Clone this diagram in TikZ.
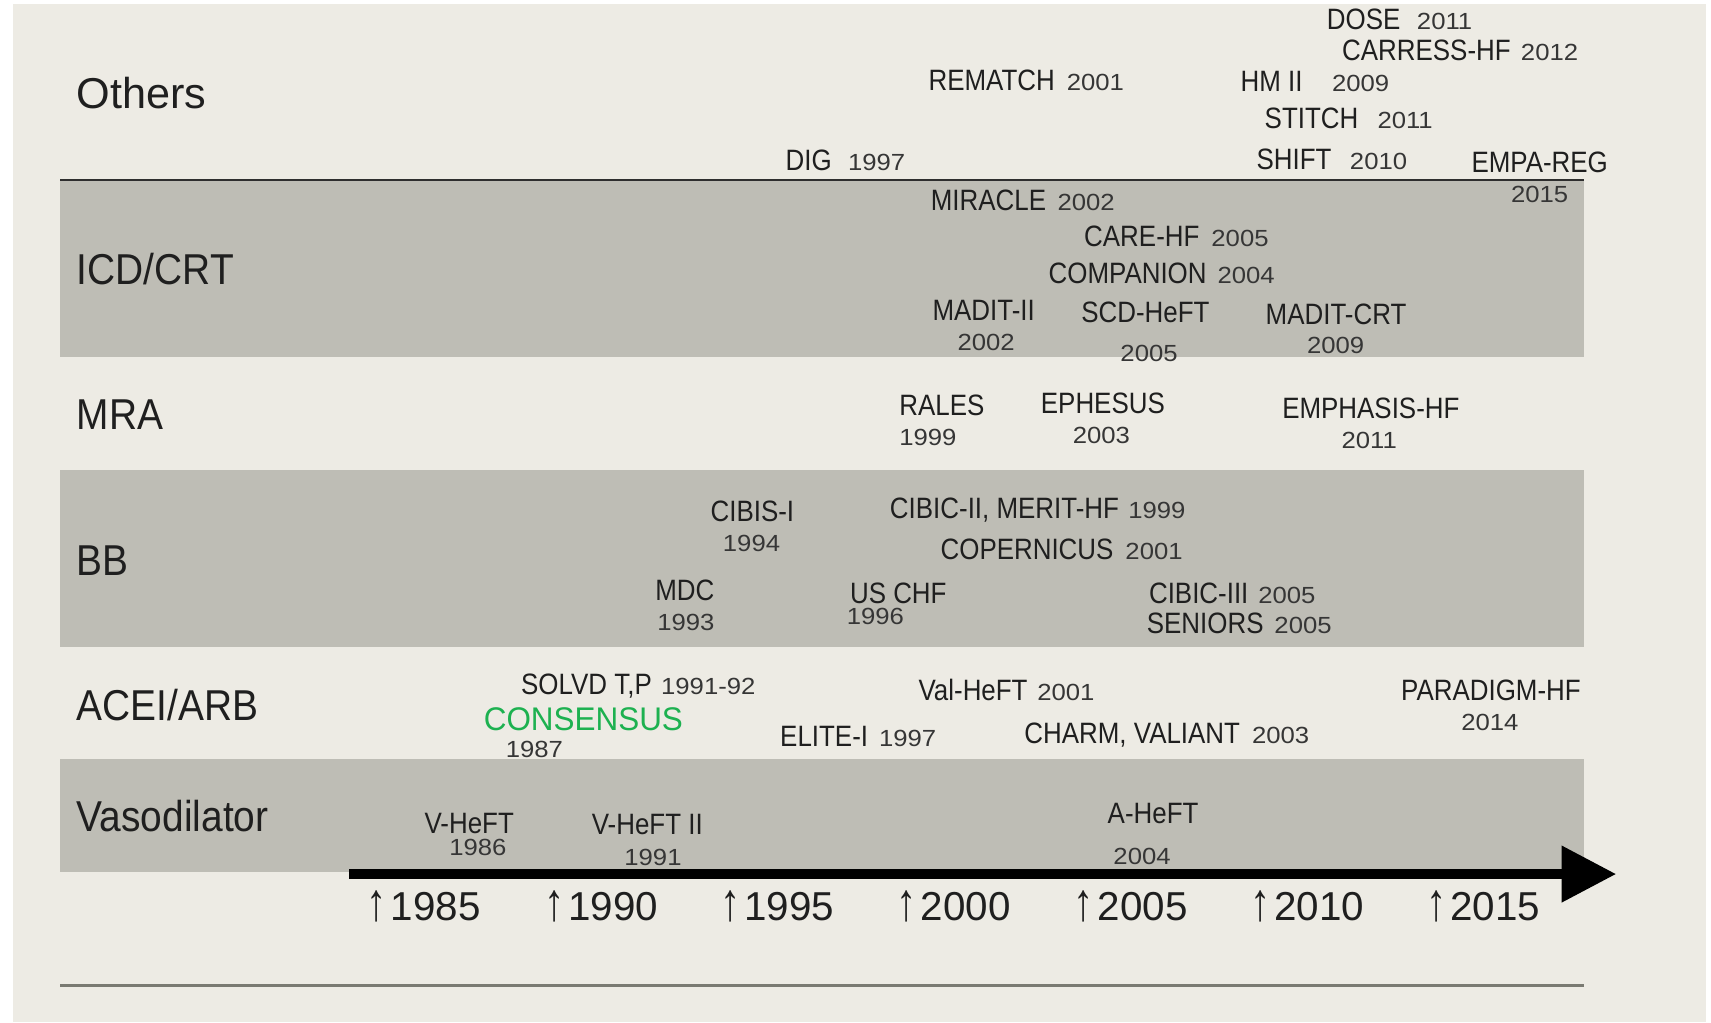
\documentclass[tikz,border=0pt]{standalone}
\usepackage{graphicx}
\usepackage{fontspec}
\setmainfont{Liberation Sans}
\newfontfamily\trialfam[FakeStretch=0.88]{Liberation Sans}
\newfontfamily\yearfam[FakeStretch=1.1]{Liberation Sans}
\newfontfamily\consfam[FakeStretch=0.96]{Liberation Sans}
\newfontfamily\catfam[FakeStretch=0.9]{Liberation Sans}
\newfontfamily\plainfam{Liberation Sans}
\usetikzlibrary{arrows.meta}
\definecolor{beige}{HTML}{EDEBE4}
\definecolor{bandcol}{HTML}{BEBDB5}
\definecolor{namecol}{HTML}{1F1F1F}
\definecolor{yearcol}{HTML}{363636}
\definecolor{catcol}{HTML}{1F1F1F}
\definecolor{consgreen}{HTML}{1DB150}
\definecolor{toplinecol}{HTML}{2E2E2E}
\definecolor{botlinecol}{HTML}{7A7A72}
\newcommand\tn{\trialfam\fontsize{13.5}{15}\selectfont}
\newcommand\ty{\yearfam\fontsize{10.7}{12}\selectfont\color{yearcol}}
\newcommand\cf{\consfam\fontsize{15}{17}\selectfont}
\newcommand\catf{\catfam\fontsize{19.8}{22}\selectfont}
\newcommand\othf{\plainfam\fontsize{19.8}{22}\selectfont}
\newcommand\axf{\plainfam\fontsize{18.5}{21}\selectfont}
\newcommand\uparr{\makebox[11pt][l]{\scalebox{1}[1.32]{↑}}}
\tikzset{
  lbl/.style={inner sep=0pt, outer sep=0pt, text=namecol},
  trial/.style={lbl, anchor=base west},
  trialc/.style={lbl, anchor=base},
  catlbl/.style={lbl, anchor=base west, text=catcol, font=\catf},
  axisyr/.style={lbl, anchor=base west, text=catcol, font=\axf},
}
\begin{document}
\begin{tikzpicture}[x=0.5pt,y=-0.5pt]
\useasboundingbox (0,0) rectangle (1568,937);
% background
\fill[white] (0,0) rectangle (1568,937);
\fill[beige] (12,3.7) rectangle (1563.5,937);
% bands
\fill[bandcol] (55,165) rectangle (1452,327);
\fill[bandcol] (55,431) rectangle (1452,592.6);
\fill[bandcol] (55,695.6) rectangle (1452,799);
\draw[toplinecol, line width=1.25pt] (55,165) -- (1452,165);
\draw[botlinecol, line width=1.5pt] (55,903) -- (1452,903);
% timeline
\coordinate (tlstart) at (320,801);
\coordinate (tlend) at (1481,801);
\draw[black, line width=4.3pt, -{Triangle[length=25pt,width=25pt]}] (tlstart) -- (tlend);
% axis years
\node[axisyr] (y1985) at (336,843.7) {\uparr 1985};
\node[axisyr] (y1990) at (499,843.7) {\uparr 1990};
\node[axisyr] (y1995) at (660,843.7) {\uparr 1995};
\node[axisyr] (y2000) at (822,843.7) {\uparr 2000};
\node[axisyr] (y2005) at (984,843.7) {\uparr 2005};
\node[axisyr] (y2010) at (1146,843.7) {\uparr 2010};
\node[axisyr] (y2015) at (1307,843.7) {\uparr 2015};
% categories
\node[catlbl, font=\othf] (others) at (70.4,99) {Others};
\node[catlbl] (icd) at (70.4,261) {ICD/CRT};
\node[catlbl] (mra) at (70.4,394) {MRA};
\node[catlbl] (bb) at (70.4,527) {BB};
\node[catlbl] (acei) at (70.4,660) {ACEI/ARB};
\node[catlbl] (vaso) at (70.4,762) {Vasodilator};
% Others
\node[trial] (dose) at (1216,27) {{\tn DOSE}\hspace{7.6pt}{\ty 2011}};
\node[trial] (carress) at (1230,55.5) {{\tn CARRESS-HF}\hspace{4.7pt}{\ty 2012}};
\node[trial] (rematch) at (851,82.5) {{\tn REMATCH}\hspace{5.5pt}{\ty 2001}};
\node[trial] (hmii) at (1137,84) {{\tn HM II}\hspace{13.5pt}{\ty 2009}};
\node[trial] (stitch) at (1159,118) {{\tn STITCH}\hspace{8.8pt}{\ty 2011}};
\node[trial] (shift) at (1151.5,155.5) {{\tn SHIFT}\hspace{8.5pt}{\ty 2010}};
\node[trial] (dig) at (720,155.8) {{\tn DIG}\hspace{7.5pt}{\ty 1997}};
\node[trialc] (empa) at (1411,158) {\tn EMPA-REG};
\node[trialc] (empay) at (1411,185.4) {\ty 2015};
% ICD/CRT
\node[trial] (miracle) at (853,193) {{\tn MIRACLE}\hspace{5.3pt}{\ty 2002}};
\node[trial] (carehf) at (993.6,226) {{\tn CARE-HF}\hspace{5.5pt}{\ty 2005}};
\node[trial] (companion) at (961,259.5) {{\tn COMPANION}\hspace{5pt}{\ty 2004}};
\node[trialc] (madit) at (901.5,294) {\tn MADIT-II};
\node[trialc] (madity) at (903.7,321.4) {\ty 2002};
\node[trialc] (scd) at (1049.7,296) {\tn SCD-HeFT};
\node[trialc] (scdy) at (1053,331.5) {\ty 2005};
\node[trialc] (mcrt) at (1224.4,297) {\tn MADIT-CRT};
\node[trialc] (mcrty) at (1224,324.4) {\ty 2009};
% MRA
\node[trial] (rales) at (824.2,381) {\tn RALES};
\node[trial] (ralesy) at (824.2,408.4) {\ty 1999};
\node[trialc] (eph) at (1010.7,378.8) {\tn EPHESUS};
\node[trialc] (ephy) at (1009.4,406) {\ty 2003};
\node[trialc] (emph) at (1256.3,383.4) {\tn EMPHASIS-HF};
\node[trialc] (emphy) at (1254.8,410.8) {\ty 2011};
% BB
\node[trialc] (cibis) at (689.5,478) {\tn CIBIS-I};
\node[trialc] (cibisy) at (688.7,505.6) {\ty 1994};
\node[trial] (cibic) at (815.6,475) {{\tn CIBIC-II, MERIT-HF}\hspace{4.3pt}{\ty 1999}};
\node[trial] (coper) at (862,513) {{\tn COPERNICUS}\hspace{5.5pt}{\ty 2001}};
\node[trialc] (mdc) at (627.6,550.5) {\tn MDC};
\node[trialc] (mdcy) at (628.6,578) {\ty 1993};
\node[trial] (uschf) at (779,553) {\tn US CHF};
\node[trial] (uschfy) at (776,572) {\ty 1996};
\node[trial] (cibicthree) at (1053,553.5) {{\tn CIBIC-III}\hspace{4.5pt}{\ty 2005}};
\node[trial] (seniors) at (1051,581) {{\tn SENIORS}\hspace{5pt}{\ty 2005}};
% ACEI/ARB
\node[trial] (solvd) at (477.6,636) {{\tn SOLVD T,P}\hspace{4.3pt}{\ty 1991-92}};
\node[trial, text=consgreen] (cons) at (443.4,669) {\cf CONSENSUS};
\node[trial] (consy) at (463.5,694) {\ty 1987};
\node[trial] (elite) at (715,684) {{\tn ELITE-I}\hspace{5pt}{\ty 1997}};
\node[trial] (valheft) at (841.8,642) {{\tn Val-HeFT}\hspace{4.5pt}{\ty 2001}};
\node[trial] (charm) at (938.8,681.8) {{\tn CHARM, VALIANT}\hspace{5.5pt}{\ty 2003}};
\node[trialc] (paradigm) at (1366.3,641.5) {\tn PARADIGM-HF};
\node[trialc] (paradigmy) at (1365.4,669) {\ty 2014};
% Vasodilator
\node[trialc] (vheft) at (430,763.5) {\tn V-HeFT};
\node[trialc] (vhefty) at (438,784) {\ty 1986};
\node[trialc] (vhefttwo) at (593.2,764.6) {\tn V-HeFT II};
\node[trialc] (vhefttwoy) at (598.4,792.7) {\ty 1991};
\node[trialc] (aheft) at (1056.7,754.5) {\tn A-HeFT};
\node[trialc] (ahefty) at (1046.6,791.8) {\ty 2004};
\end{tikzpicture}
\end{document}
